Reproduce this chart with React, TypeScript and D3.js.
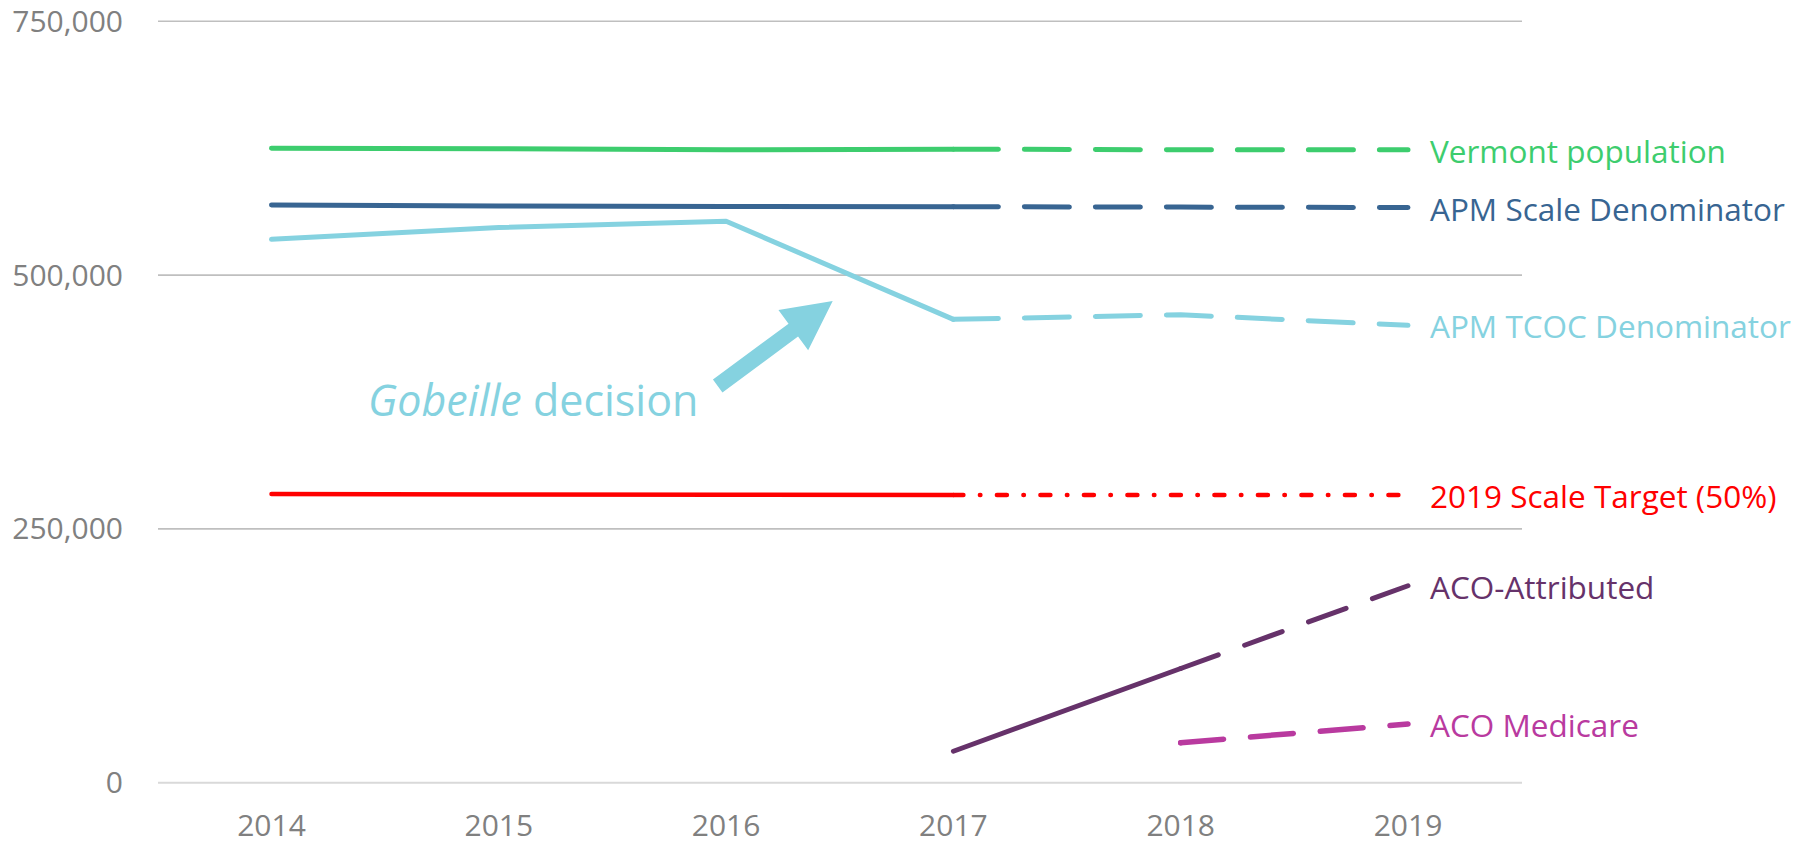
import React from 'react';
import * as d3 from 'd3';

const years = [2014, 2015, 2016, 2017, 2018, 2019];
const yTicks = [0, 250000, 500000, 750000];

const vermontPopulation = [625000, 624500, 623500, 624000, 623500, 623500];
const apmScaleDenominator = [569000, 568000, 567500, 567400, 567000, 566500];
const apmTcocDenominator = [535300, 546800, 553100, 456400, 461000, 450500];
const scaleTarget = [284400, 284000, 283600, 283500, 283500, 283500];
const acoAttributed = [null, null, null, 31000, 112500, 194000];
const acoMedicare = [null, null, null, null, 39400, 57800];

const seriesNames = [
  'Vermont population',
  'APM Scale Denominator',
  'APM TCOC Denominator',
  '2019 Scale Target (50%)',
  'ACO-Attributed',
  'ACO Medicare',
];
const seriesColors = ['#3dcd6e', '#386592', '#85d2e0', '#ff0000', '#66326a', '#b93a9f'];
// last year drawn solid, after that the projection is dashed
const solidUntil = [2017, 2017, 2017, 2017, 2018, 2018];

const W = 1812;
const H = 845;
const FONT = "'Segoe UI', 'Malgun Gothic', 'Open Sans', sans-serif";

type Pt = { year: number; value: number | null };

export default function App() {
  const x = d3.scaleLinear().domain([2014, 2019]).range([271.5, 1408]);
  const y = d3.scaleLinear().domain([0, 750000]).range([782.7, 21.3]);

  const line = d3
    .line<Pt>()
    .defined((d) => d.value != null)
    .x((d) => x(d.year))
    .y((d) => y(d.value as number));

  const allSeries = [
    vermontPopulation,
    apmScaleDenominator,
    apmTcocDenominator,
    scaleTarget,
    acoAttributed,
    acoMedicare,
  ];

  const widths = [5, 5, 5, 4.5, 5, 5.5];
  const dashes = ['45,26', '45,26', '45,26', '10,16.5,0.5,16.5', '40,28', '43,27'];

  // Gobeille annotation, anchored in data space
  const tail: [number, number] = [x(2015.963), y(390800)];
  const tip: [number, number] = [x(2016.469), y(474500)];
  const dx = tip[0] - tail[0];
  const dy = tip[1] - tail[1];
  const len = Math.hypot(dx, dy);
  const ux = dx / len;
  const uy = dy / len;
  const nx = -uy;
  const ny = ux;
  const headLen = 49;
  const shaftW = 16;
  const headW = 50;
  const bx = tip[0] - ux * headLen;
  const by = tip[1] - uy * headLen;
  const arrowPts = [
    [tail[0] + nx * shaftW / 2, tail[1] + ny * shaftW / 2],
    [bx + nx * shaftW / 2, by + ny * shaftW / 2],
    [bx + nx * headW / 2, by + ny * headW / 2],
    tip,
    [bx - nx * headW / 2, by - ny * headW / 2],
    [bx - nx * shaftW / 2, by - ny * shaftW / 2],
    [tail[0] - nx * shaftW / 2, tail[1] - ny * shaftW / 2],
  ]
    .map((p) => p.join(','))
    .join(' ');

  return (
    <svg
      width={W}
      height={H}
      style={{ position: 'fixed', left: 0, top: 0, background: '#fff' }}
      fontFamily={FONT}
    >
      {yTicks.map((t) => (
        <g key={t}>
          <line
            x1={158}
            x2={1522}
            y1={y(t)}
            y2={y(t)}
            stroke={t === 0 ? '#d9d9d9' : '#bfbfbf'}
            strokeWidth={t === 0 ? 2 : 1.6}
          />
          <text x={123} y={y(t) + 10.5} textAnchor="end" fontSize={30} fill="#808080">
            {d3.format(',')(t)}
          </text>
        </g>
      ))}

      {years.map((yr) => (
        <text key={yr} x={x(yr)} y={836} textAnchor="middle" fontSize={30} fill="#808080">
          {yr}
        </text>
      ))}

      {allSeries.map((vals, i) => {
        const pts: Pt[] = years.map((yr, j) => ({ year: yr, value: vals[j] }));
        const solid = pts.filter((p) => p.year <= solidUntil[i]);
        const dashed = pts.filter((p) => p.year >= solidUntil[i]);
        const last = pts[pts.length - 1];
        return (
          <g key={seriesNames[i]}>
            <path
              d={line(solid) || ''}
              fill="none"
              stroke={seriesColors[i]}
              strokeWidth={widths[i]}
              strokeLinecap="round"
              strokeLinejoin="round"
            />
            <path
              d={line(dashed) || ''}
              fill="none"
              stroke={seriesColors[i]}
              strokeWidth={widths[i]}
              strokeLinecap="round"
              strokeDasharray={dashes[i]}
            />
            <text
              x={x(last.year) + 22}
              y={y(last.value as number) + 2}
              dy="0.35em"
              fontSize={31.5}
              fill={seriesColors[i]}
            >
              {seriesNames[i]}
            </text>
          </g>
        );
      })}

      <polygon points={arrowPts} fill="#85d2e0" />
      <text x={x(2014.425)} y={y(361000)} fontSize={43} fill="#85d2e0">
        <tspan fontStyle="italic">Gobeille</tspan> decision
      </text>
    </svg>
  );
}
